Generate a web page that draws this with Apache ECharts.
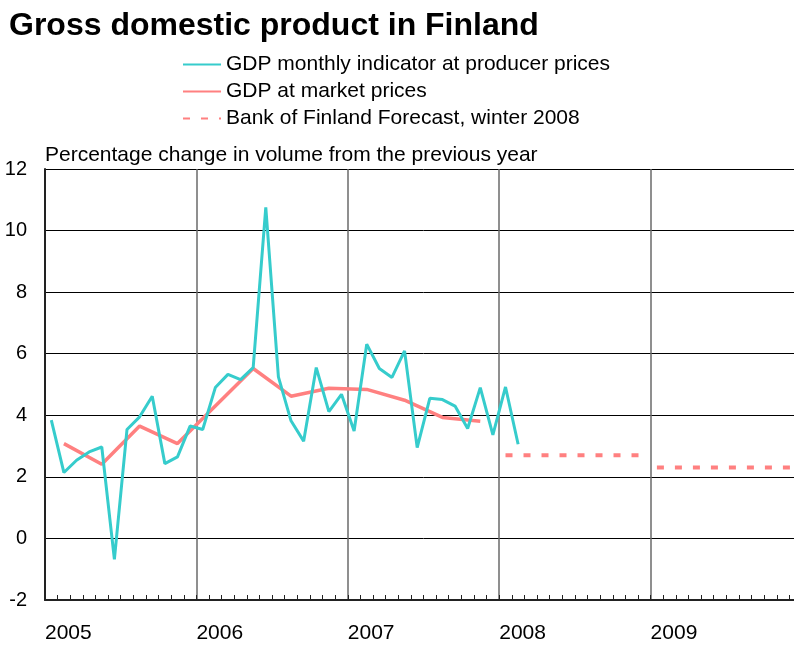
<!DOCTYPE html>
<html>
<head>
<meta charset="utf-8">
<script src="https://cdn.jsdelivr.net/npm/echarts@6/dist/echarts.min.js"></script>
<style>
html,body{margin:0;padding:0;background:#fff;overflow:hidden;}
#chart{width:820px;height:645px;}
</style>
</head>
<body>
<div id="chart"></div>
<script>
// ---- Data ----
var firstYear = 2005;
var yearLabels = ['2005', '2006', '2007', '2008', '2009'];
// GDP monthly indicator at producer prices, Jan 2005 – Feb 2008 (% y/y)
var monthlyIndicator = [
  3.84, 2.14, 2.54, 2.81, 2.97, -0.68, 3.54, 3.95, 4.62, 2.43, 2.65, 3.65,
  3.54, 4.90, 5.33, 5.16, 5.55, 10.75, 5.25, 3.82, 3.16, 5.55, 4.12, 4.68,
  3.49, 6.31, 5.52, 5.23, 6.09, 2.95, 4.55, 4.51, 4.30, 3.57, 4.90, 3.36,
  4.92, 3.06
];
// GDP at market prices, quarterly Q1 2005 – Q4 2007 (% y/y)
var quarterlyGDP = [3.08, 2.41, 3.65, 3.08, 4.30, 5.52, 4.62, 4.88, 4.84, 4.49, 3.93, 3.81];
// Bank of Finland forecast, winter 2008 (annual)
var forecastYears = [2008, 2009];
var forecastValues = [2.7, 2.3];

// ---- Build series data (x in months since Jan 2005, point at mid-month) ----
var monthlyData = monthlyIndicator.map(function (v, i) { return [i + 0.5, v]; });
var quarterlyData = quarterlyGDP.map(function (v, q) { return [q * 3 + 1.5, v]; });
function forecastData(k) {
  var start = (forecastYears[k] - firstYear) * 12;
  var arr = [];
  for (var m = 0; m < 12; m++) arr.push([start + m + 0.5, forecastValues[k]]);
  return arr;
}

var FONT = '"Liberation Sans", Arial, sans-serif';
var CYAN = '#36CCCC';
var RED = '#FF8080';
var FNAME = 'Bank of Finland Forecast, winter 2008';

var chart = echarts.init(document.getElementById('chart'), null, {renderer: 'canvas'});
chart.setOption({
  animation: false,
  backgroundColor: '#fff',
  textStyle: {fontFamily: FONT},
  title: {
    text: 'Gross domestic product in Finland',
    left: 4, top: 5,
    textStyle: {fontFamily: FONT, fontSize: 32, fontWeight: 'bold', color: '#000'}
  },
  legend: {
    orient: 'vertical',
    left: 182, top: 54,
    padding: 0,
    itemWidth: 38, itemHeight: 14, itemGap: 6,
    itemStyle: {opacity: 0},
    textStyle: {fontFamily: FONT, fontSize: 21, lineHeight: 21, color: '#000'},
    data: ['GDP monthly indicator at producer prices', 'GDP at market prices', FNAME]
  },
  grid: {left: 45, top: 169, width: 757, height: 431, containLabel: false, outerBoundsMode: 'none'},
  xAxis: {
    type: 'value',
    min: 0, max: 60, interval: 12,
    axisLine: {show: true, onZero: false, lineStyle: {color: '#222', width: 2}},
    axisTick: {show: true, inside: true, length: 5, lineStyle: {color: '#222'}},
    minorTick: {show: true, splitNumber: 12, length: 5, lineStyle: {color: '#222'}},
    splitLine: {show: true, lineStyle: {color: '#6a6a6a', width: 1.5}},
    axisLabel: {
      align: 'left', margin: 23,
      fontFamily: FONT, fontSize: 21, color: '#000',
      formatter: function (v) { var i = Math.round(v / 12); return yearLabels[i] || ''; }
    }
  },
  yAxis: {
    type: 'value',
    min: -2, max: 12, interval: 2,
    name: 'Percentage change in volume from the previous year',
    nameLocation: 'end',
    nameGap: 3,
    nameTextStyle: {align: 'left', verticalAlign: 'bottom', fontFamily: FONT, fontSize: 21, color: '#000', padding: [0, 0, 0, 0]},
    axisLine: {show: true, lineStyle: {color: '#222', width: 2}},
    axisTick: {show: false},
    splitLine: {show: true, lineStyle: {color: '#000', width: 1}},
    axisLabel: {margin: 18, fontFamily: FONT, fontSize: 20, color: '#000'}
  },
  series: [
    {
      name: 'GDP monthly indicator at producer prices',
      type: 'line', data: monthlyData, symbol: 'none',
      lineStyle: {color: CYAN, width: 3}, itemStyle: {color: CYAN}, z: 4
    },
    {
      name: 'GDP at market prices',
      type: 'line', data: quarterlyData, symbol: 'none',
      lineStyle: {color: RED, width: 3.5}, itemStyle: {color: RED}, z: 3
    },
    {
      name: FNAME,
      type: 'line', data: forecastData(0), symbol: 'none',
      lineStyle: {color: RED, width: 4, type: [7, 11], cap: 'butt'}, itemStyle: {color: RED}, z: 3
    },
    {
      name: FNAME,
      type: 'line', data: forecastData(1), symbol: 'none',
      lineStyle: {color: RED, width: 4, type: [7, 11], cap: 'butt'}, itemStyle: {color: RED}, z: 3
    }
  ]
});
</script>
</body>
</html>
